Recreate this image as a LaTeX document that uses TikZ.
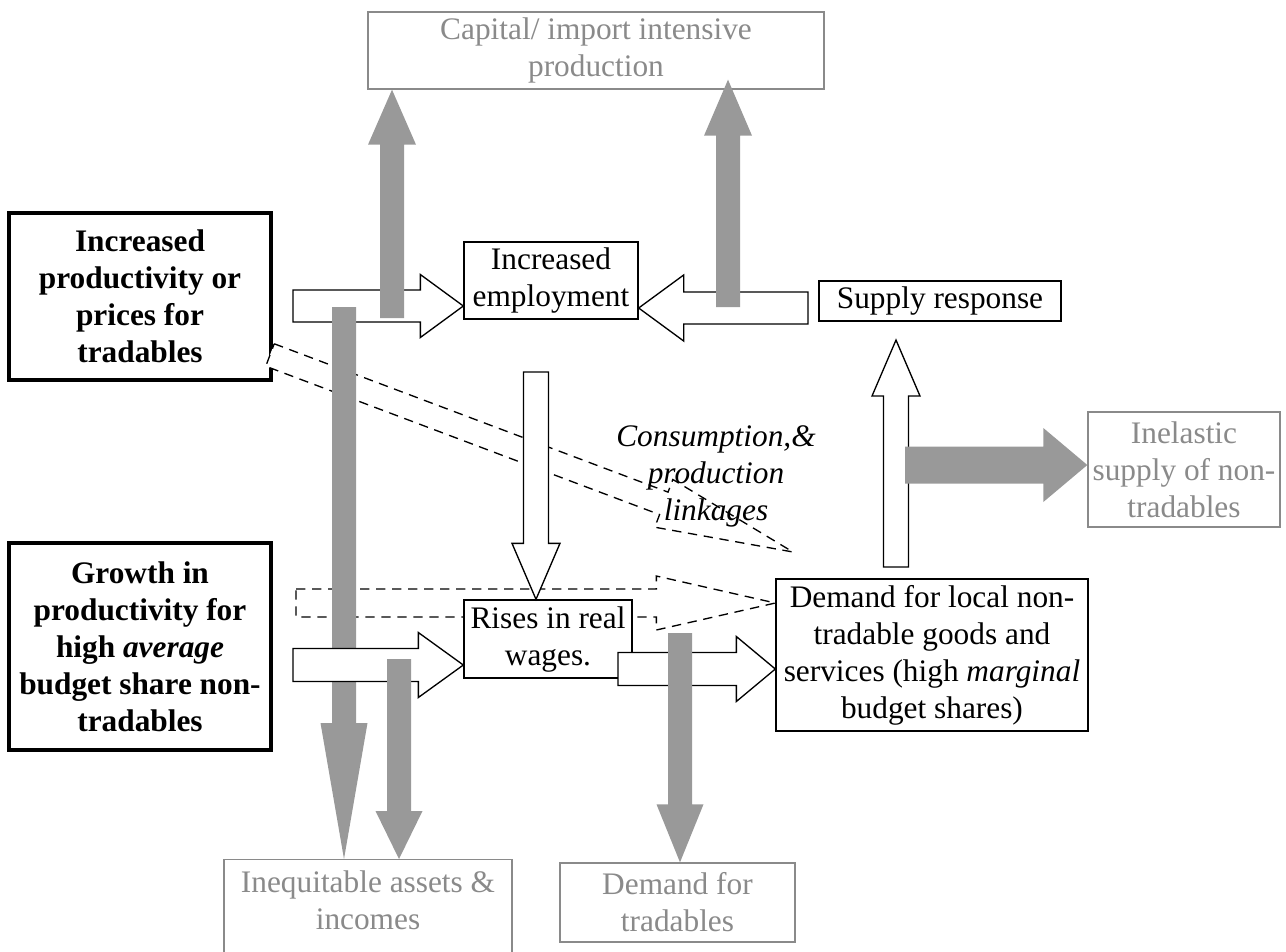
\documentclass[tikz,border=0pt]{standalone}
\usepackage{fontspec}
\setmainfont{Liberation Serif}
\usetikzlibrary{calc}
\definecolor{arrowgray}{RGB}{153,153,153}
\definecolor{boxgray}{RGB}{138,138,138}
\pgfdeclarelayer{background}
\pgfsetlayers{background,main}

\newcommand{\mainsize}{\fontsize{23.5pt}{27.75pt}\selectfont}
% #1 style, #2 tail, #3 tip, #4 half body, #5 half head, #6 head length
\newcommand{\blockarrow}[6]{%
  \path[#1] let \p1 = (#2), \p2 = (#3),
      \n1 = {atan2(\y2-\y1,\x2-\x1)}, \n2 = {veclen(\x2-\x1,\y2-\y1)} in
    {[shift={(\p1)}, rotate=\n1]
      (0pt,{#4*0.75pt}) -- ({\n2*1pt-#6*0.75pt},{#4*0.75pt})
      -- ({\n2*1pt-#6*0.75pt},{#5*0.75pt}) -- ({\n2*1pt},0pt)
      -- ({\n2*1pt-#6*0.75pt},{-#5*0.75pt}) -- ({\n2*1pt-#6*0.75pt},{-#4*0.75pt})
      -- (0pt,{-#4*0.75pt}) -- cycle};}

\begin{document}
\begin{tikzpicture}[x=0.75pt, y=-0.75pt,
                box/.style = {draw, fill=white, line width=1pt, inner sep=2pt,
                              align=center, font=\mainsize},
                thickbox/.style = {box, line width=3pt, font=\mainsize\bfseries},
                graybox/.style = {box, draw=boxgray, text=boxgray},
                whitearr/.style = {draw, fill=white, line width=1pt},
                grayarr/.style = {fill=arrowgray},
                dasharr/.style = {draw, line width=1pt, dash pattern=on 7pt off 5pt}
                ]
                \clip (0,0) rectangle (1286,951);
                \node[graybox, minimum width=342pt, minimum height=57.75pt] (cap) at (596,50.5)
                    {Capital/ import intensive\\production};
                \node[thickbox, minimum width=196.5pt, minimum height=125.25pt] (incr) at (140,296.5)
                    {Increased\\productivity or\\prices for\\tradables};
                \node[thickbox, minimum width=196.5pt, minimum height=155.25pt] (growth) at (140,646.5)
                    {Growth in\\productivity for\\high \textit{average}\\budget share non-\\tradables};
                \node[box, minimum width=130.5pt, minimum height=57.75pt] (emp) at (551,280.5)
                    {Increased\\employment};
                \node[box, minimum width=181.5pt, minimum height=30pt] (supply) at (940,301)
                    {Supply response};
                \node[box, minimum width=126pt, minimum height=58.5pt] (rises) at (548,639)
                    {Rises in real\\wages.};
                \node[box, minimum width=234pt, minimum height=114pt] (demand) at (932,655)
                    {Demand for local non-\\tradable goods and\\services (high \textit{marginal}\\budget shares)};
                \node[graybox, minimum width=144pt, minimum height=86.25pt] (inel) at (1184,469.5)
                    {Inelastic\\supply of non-\\tradables};
                \node[graybox, anchor=north, minimum width=216pt, text height=50.5pt, text depth=60pt]
                    (ineq) at (368,859) {Inequitable assets \&\\incomes};
                \node[graybox, minimum width=176.25pt, minimum height=59.25pt] (dtrad) at (677.5,902.5)
                    {Demand for\\tradables};

                \coordinate (aTail) at (293,306);
                \coordinate (bTail) at (808,308);
                \coordinate (cTail) at (536,372);
                \coordinate (dTail) at (293,665);
                \coordinate (eTail) at (618,669);
                \coordinate (fTail) at (896,567);
                \coordinate (fHead) at (896,340);
                \coordinate (g1Tail) at (392,318);
                \coordinate (g2Tail) at (728,307);
                \coordinate (g3Tail) at (344,307);
                \coordinate (g4Tail) at (399,659);
                \coordinate (g5Tail) at (680,633);
                \coordinate (g6Tail) at (905,465);
                \coordinate (daTail) at (270,355);
                \coordinate (daHead) at (793,552);
                \coordinate (dbTail) at (296,603);

                \begin{pgfonlayer}{background}
                    \blockarrow{dasharr}{dbTail}{demand.west |- dbTail}{14}{27}{119}
                \end{pgfonlayer}
                \blockarrow{dasharr, fill=white}{daTail}{daHead}{12}{25.5}{138}

                \blockarrow{whitearr}{aTail}{emp.west |- aTail}{16}{31.5}{43}
                \blockarrow{whitearr}{bTail}{emp.east |- bTail}{16}{33}{45}
                \blockarrow{whitearr}{cTail}{rises.north -| cTail}{12.5}{24}{56}
                \blockarrow{whitearr}{eTail}{demand.west |- eTail}{16.5}{32.5}{39}
                \blockarrow{whitearr}{fTail}{fHead}{12.5}{24}{56}
                \blockarrow{grayarr}{g3Tail}{ineq.north -| g3Tail}{12}{23.5}{136}
                \blockarrow{whitearr}{dTail}{rises.west |- dTail}{16.5}{32.5}{45}
                \blockarrow{grayarr}{g1Tail}{cap.south -| g1Tail}{12}{24}{55}
                \blockarrow{grayarr}{g2Tail}{$(cap.south -| g2Tail)+(0,-10)$}{12}{24}{56}
                \blockarrow{grayarr}{g4Tail}{ineq.north -| g4Tail}{12}{23.5}{48}
                \blockarrow{grayarr}{g5Tail}{dtrad.north -| g5Tail}{12}{23.5}{58}
                \blockarrow{grayarr}{g6Tail}{inel.west |- g6Tail}{18.5}{37}{44}

                \node[align=center, font=\mainsize\itshape] (link) at (716,476)
                    {Consumption,\&\\production\\linkages};
            \end{tikzpicture}
\end{document}
